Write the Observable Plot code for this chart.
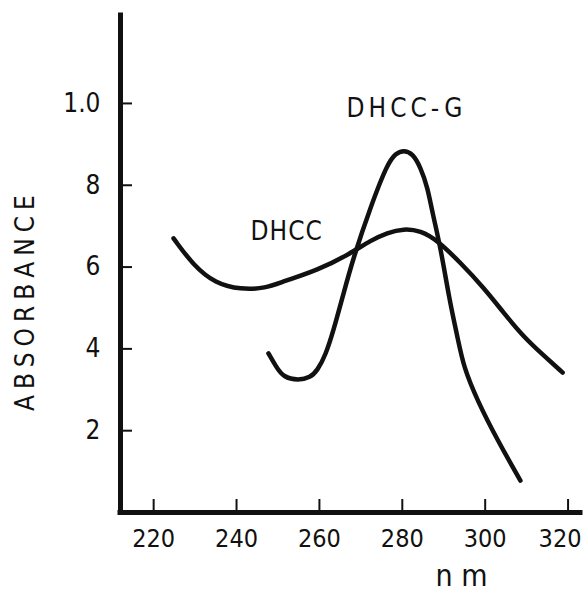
<!DOCTYPE html>
<html>
<head>
<meta charset="utf-8">
<script src="https://cdn.jsdelivr.net/npm/d3@7"></script>
<script src="https://cdn.jsdelivr.net/npm/@observablehq/plot@0.6"></script>
<style>
  html, body { margin: 0; padding: 0; background: #fff; }
  #chart { width: 587px; height: 592px; overflow: hidden; }
</style>
</head>
<body>
<div id="chart"></div>
<script>
// Wavelength (nm) and absorbance
const dhccNm  = [224.8, 229.6, 234.9, 241.0, 247.0, 251.3, 259.5, 267.5, 272.3, 276.4, 280.3, 284.4, 288.5, 294.0, 299.6, 304.4, 309.2, 314.1, 318.7];
const dhccAbs = [0.670, 0.604, 0.560, 0.545, 0.548, 0.565, 0.592, 0.633, 0.665, 0.684, 0.694, 0.689, 0.665, 0.611, 0.550, 0.489, 0.430, 0.384, 0.342];

const dhccGNm  = [247.7, 249.4, 251.3, 255.0, 257.8, 259.5, 261.5, 263.4, 265.8, 268.2, 272.3, 276.4, 278.4, 280.3, 282.5, 284.4, 286.1, 287.3, 289.2, 291.4, 293.3, 294.8, 298.1, 303.0, 308.5];
const dhccGAbs = [0.389, 0.359, 0.330, 0.323, 0.330, 0.347, 0.385, 0.445, 0.535, 0.623, 0.746, 0.853, 0.878, 0.886, 0.878, 0.844, 0.795, 0.731, 0.650, 0.518, 0.430, 0.355, 0.274, 0.176, 0.078];

const xTicks = [220, 240, 260, 280, 300, 320];
const yTicks = [0.2, 0.4, 0.6, 0.8, 1.0];
const yTickLabels = ["2", "4", "6", "8", "1.0"];

const seriesLabels = ["DHCC", "DHCC-G"];
const labelNm  = [252.1, 281.0];
const labelAbs = [0.687, 0.988];

const xDomain = [212, 323];
const yDomain = [0, 1.215];

const W = 587, H = 592;
const mL = 120, mR = 7, mT = 15, mB = 80;
const plotW = W - mL - mR, plotH = H - mT - mB;

const dhcc = dhccNm.map((x, i) => ({x, y: dhccAbs[i]}));
const dhccG = dhccGNm.map((x, i) => ({x, y: dhccGAbs[i]}));

const cond = "'DejaVu Sans Condensed', 'DejaVu Sans', sans-serif";

const chart = Plot.plot({
  width: W, height: H,
  marginLeft: mL, marginRight: mR, marginTop: mT, marginBottom: mB,
  x: {domain: xDomain},
  y: {domain: yDomain},
  style: {fontFamily: cond, background: "#fff", color: "#111", overflow: "hidden"},
  marks: [
    Plot.axisX(xTicks.slice(0, -1), {tickSize: 0, tickPadding: 17, fontSize: 25, label: null, fill: "#111"}),
    Plot.axisX(xTicks.slice(-1), {tickSize: 0, tickPadding: 17, fontSize: 25, label: null, fill: "#111", dx: -8}),
    Plot.axisY(yTicks, {tickSize: 0, tickPadding: 20, fontSize: 26, label: null, fill: "#111",
      tickFormat: d => yTickLabels[yTicks.indexOf(d)]}),
    Plot.tickX(xTicks, {x: d => d, insetTop: plotH - 13, strokeWidth: 2, stroke: "#111"}),
    Plot.tickY(yTicks, {y: d => d, insetRight: plotW - 12, strokeWidth: 2, stroke: "#111"}),
    Plot.ruleX([xDomain[0]], {strokeWidth: 5, stroke: "#111", strokeLinecap: "square"}),
    Plot.ruleY([0], {strokeWidth: 5, stroke: "#111", strokeLinecap: "square"}),
    Plot.line(dhcc, {x: "x", y: "y", curve: "basis", stroke: "#111", strokeWidth: 4.5, strokeLinecap: "round"}),
    Plot.line(dhccG, {x: "x", y: "y", curve: "basis", stroke: "#111", strokeWidth: 4.5, strokeLinecap: "round"}),
    Plot.text([seriesLabels[0]], {x: labelNm[0], y: labelAbs[0], text: d => d, fill: "#111", fontSize: 26}),
    Plot.text([seriesLabels[1]], {x: labelNm[1], y: labelAbs[1], text: d => d, fill: "#111", fontSize: 26}),
    Plot.text(["ABSORBANCE"], {frameAnchor: "left", dx: -95, dy: 36, rotate: -90,
      fontSize: 26, fill: "#111", textAnchor: "middle", lineAnchor: "middle"}),
    Plot.text(["n m"], {frameAnchor: "bottom", dx: 111, dy: 64, fontSize: 30, fill: "#111",
      textAnchor: "middle", lineAnchor: "middle"})
  ]
});
// letter spacing (not a Plot option) applied to the lettered labels
const spacing = {"ABSORBANCE": "6px", "DHCC-G": "4px", "DHCC": "1px"};
chart.querySelectorAll("text").forEach(t => {
  const s = spacing[t.textContent];
  if (s) t.style.letterSpacing = s;
});
document.getElementById("chart").appendChild(chart);
</script>
</body>
</html>
